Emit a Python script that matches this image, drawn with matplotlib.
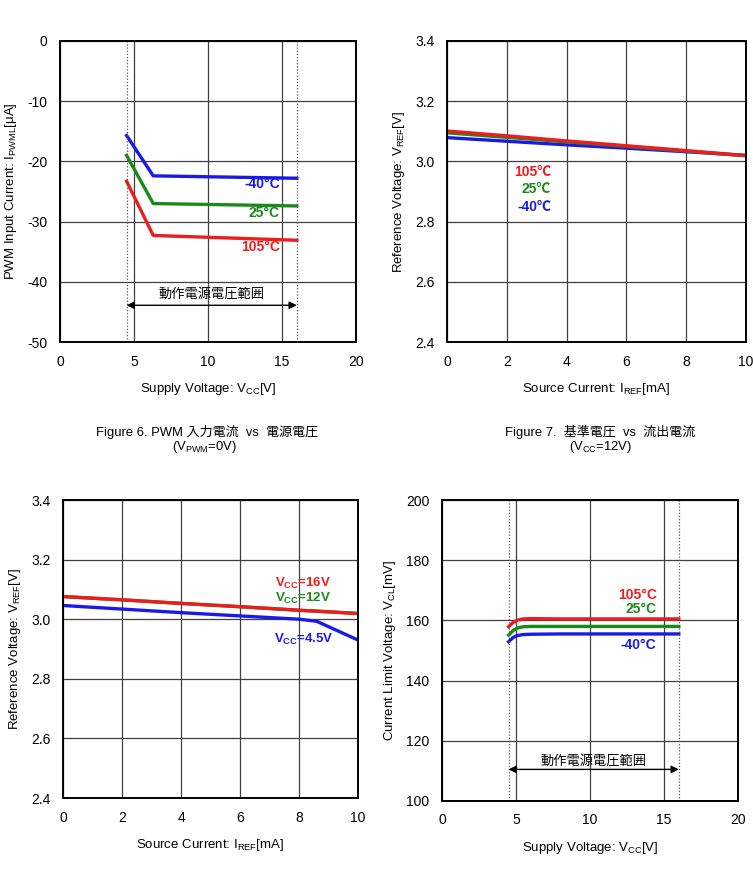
import numpy as np
import matplotlib
matplotlib.use("Agg")
import matplotlib.pyplot as plt

plt.rcParams['font.family'] = ['Liberation Sans', 'Noto Sans CJK JP', 'DejaVu Sans']
plt.rcParams['mathtext.fontset'] = 'custom'
plt.rcParams['mathtext.rm'] = 'Liberation Sans'
plt.rcParams['mathtext.bf'] = 'Liberation Sans:bold'
plt.rcParams['mathtext.default'] = 'regular'
plt.rcParams['axes.unicode_minus'] = False

RED = '#ee1c1c'
GREEN = '#1a8a1a'
BLUE = '#1a1ae6'

# Figure 6: PWM input current vs supply voltage
f6_vcc = [4.5, 6.3, 16.0]
f6_m40 = [-15.7, -22.4, -22.8]
f6_25 = [-19.0, -27.0, -27.4]
f6_105 = [-23.3, -32.3, -33.1]

# Figure 7: reference voltage vs source current (VCC=12V)
f7_iref = [0, 2, 4, 6, 8, 10]
f7_105 = [3.101, 3.085, 3.068, 3.052, 3.036, 3.019]
f7_25 = [3.095, 3.080, 3.065, 3.050, 3.034, 3.019]
f7_m40 = [3.079, 3.067, 3.055, 3.044, 3.032, 3.020]

# Figure 8: reference voltage vs source current (by VCC)
f8_iref = [0, 2, 4, 6, 8, 8.6, 10]
f8_16v = [3.076, 3.065, 3.053, 3.042, 3.030, 3.027, 3.019]
f8_12v = [3.076, 3.065, 3.053, 3.042, 3.030, 3.027, 3.019]
f8_4v5 = [3.046, 3.034, 3.022, 3.011, 3.000, 2.993, 2.930]

# Figure 9: current limit voltage vs supply voltage
f9_vcc = [4.5, 4.8, 5.1, 5.5, 6.0, 8.0, 16.0]
f9_105 = [157.9, 159.3, 160.1, 160.5, 160.6, 160.5, 160.5]
f9_25 = [155.1, 156.6, 157.5, 157.9, 158.0, 158.0, 158.0]
f9_m40 = [152.9, 154.3, 155.0, 155.3, 155.4, 155.5, 155.5]

W, H = 753, 874
fig = plt.figure(figsize=(W / 100, H / 100), dpi=100)


def make_ax(l, t, r, b):
    ax = fig.add_axes([l / W, 1 - b / H, (r - l) / W, (b - t) / H])
    ax.grid(True, color='#404040', lw=0.9)
    ax.set_axisbelow(True)
    ax.tick_params(length=0, pad=9, labelsize=10)
    for s in ax.spines.values():
        s.set_linewidth(1.4)
        s.set_color('black')
    return ax


def op_range(ax, y_arrow, y_text):
    for xv in (4.5, 16.0):
        ax.axvline(xv, color='#555555', lw=0.9, ls=(0, (1, 1.5)))
    ax.annotate('', xy=(16.0, y_arrow), xytext=(4.5, y_arrow),
                arrowprops=dict(arrowstyle='<|-|>', color='black', lw=1,
                                shrinkA=0, shrinkB=0, mutation_scale=11))
    ax.text(10.25, y_text, '動作電源電圧範囲', ha='center', va='center', fontsize=9.5)


lw = 2.4
lab = dict(ha='right', va='center', fontsize=10, fontweight='bold')

# --- Figure 6 ---
ax1 = make_ax(60, 41, 356, 342)
ax1.plot(f6_vcc, f6_m40, color=BLUE, lw=lw)
ax1.plot(f6_vcc, f6_25, color=GREEN, lw=lw)
ax1.plot(f6_vcc, f6_105, color=RED, lw=lw)
ax1.set_xlim(0, 20)
ax1.set_ylim(-50, 0)
ax1.set_xticks([0, 5, 10, 15, 20])
ax1.set_yticks([-50, -40, -30, -20, -10, 0])
op_range(ax1, -43.9, -42.0)
ax1.text(14.85, -23.8, '-40°C', color=BLUE, **lab)
ax1.text(14.85, -28.5, '25°C', color=GREEN, **lab)
ax1.text(14.85, -34.3, '105°C', color=RED, **lab)
ax1.set_xlabel('Supply Voltage: V$_{CC}$[V]', fontsize=9.5, labelpad=9)
ax1.set_ylabel('PWM Input Current: I$_{PWML}$[μA]', fontsize=9.5, labelpad=6)

# --- Figure 7 ---
ax2 = make_ax(447, 41, 746, 342)
ax2.plot(f7_iref, f7_m40, color=BLUE, lw=lw)
ax2.plot(f7_iref, f7_25, color=GREEN, lw=lw)
ax2.plot(f7_iref, f7_105, color=RED, lw=lw)
ax2.set_xlim(0, 10)
ax2.set_ylim(2.4, 3.4)
ax2.set_xticks([0, 2, 4, 6, 8, 10])
ax2.set_yticks([2.4, 2.6, 2.8, 3.0, 3.2, 3.4])
ax2.yaxis.set_major_formatter(matplotlib.ticker.FormatStrFormatter('%.1f'))
ax2.text(3.47, 2.966, '105℃', color=RED, **lab)
ax2.text(3.47, 2.908, '25℃', color=GREEN, **lab)
ax2.text(3.50, 2.849, '-40℃', color=BLUE, **lab)
ax2.set_xlabel('Source Current: I$_{REF}$[mA]', fontsize=9.5, labelpad=9)
ax2.set_ylabel('Reference Voltage: V$_{REF}$[V]', fontsize=9.5, labelpad=6)

# --- Figure 8 ---
ax3 = make_ax(63, 500, 358, 798)
ax3.plot(f8_iref, f8_4v5, color=BLUE, lw=lw)
ax3.plot(f8_iref, f8_12v, color=GREEN, lw=lw)
ax3.plot(f8_iref, f8_16v, color=RED, lw=lw)
ax3.set_xlim(0, 10)
ax3.set_ylim(2.4, 3.4)
ax3.set_xticks([0, 2, 4, 6, 8, 10])
ax3.set_yticks([2.4, 2.6, 2.8, 3.0, 3.2, 3.4])
ax3.yaxis.set_major_formatter(matplotlib.ticker.FormatStrFormatter('%.1f'))
lab3 = dict(lab, fontsize=9.5)
ax3.text(9.07, 3.119, 'V$_{\\mathbf{CC}}$=16V', color=RED, **lab3)
ax3.text(9.07, 3.071, 'V$_{\\mathbf{CC}}$=12V', color=GREEN, **lab3)
ax3.text(9.18, 2.931, 'V$_{\\mathbf{CC}}$=4.5V', color=BLUE, **lab3)
ax3.set_xlabel('Source Current: I$_{REF}$[mA]', fontsize=9.5, labelpad=9)
ax3.set_ylabel('Reference Voltage: V$_{REF}$[V]', fontsize=9.5, labelpad=6)

# --- Figure 9 ---
ax4 = make_ax(442, 500, 738, 801)
ax4.plot(f9_vcc, f9_m40, color=BLUE, lw=lw)
ax4.plot(f9_vcc, f9_25, color=GREEN, lw=lw)
ax4.plot(f9_vcc, f9_105, color=RED, lw=lw)
ax4.set_xlim(0, 20)
ax4.set_ylim(100, 200)
ax4.set_xticks([0, 5, 10, 15, 20])
ax4.set_yticks([100, 120, 140, 160, 180, 200])
op_range(ax4, 110.5, 113.4)
ax4.text(14.5, 168.3, '105°C', color=RED, **lab)
ax4.text(14.5, 163.9, '25°C', color=GREEN, **lab)
ax4.text(14.5, 151.8, '-40°C', color=BLUE, **lab)
ax4.set_xlabel('Supply Voltage: V$_{CC}$[V]', fontsize=9.5, labelpad=9)
ax4.set_ylabel('Current Limit Voltage: V$_{CL}$[mV]', fontsize=9.5, labelpad=6)

# captions
fig.text(207 / W, 1 - 432 / H, 'Figure 6. PWM 入力電流  vs  電源電圧', ha='center', va='center', fontsize=9.4)
fig.text(204 / W, 1 - 447 / H, '(V$_{PWM}$=0V)', ha='center', va='center', fontsize=9.4)
fig.text(600 / W, 1 - 432 / H, 'Figure 7.  基準電圧  vs  流出電流', ha='center', va='center', fontsize=9.4)
fig.text(600 / W, 1 - 447 / H, '(V$_{CC}$=12V)', ha='center', va='center', fontsize=9.4)

fig.savefig('out.png', dpi=100)
